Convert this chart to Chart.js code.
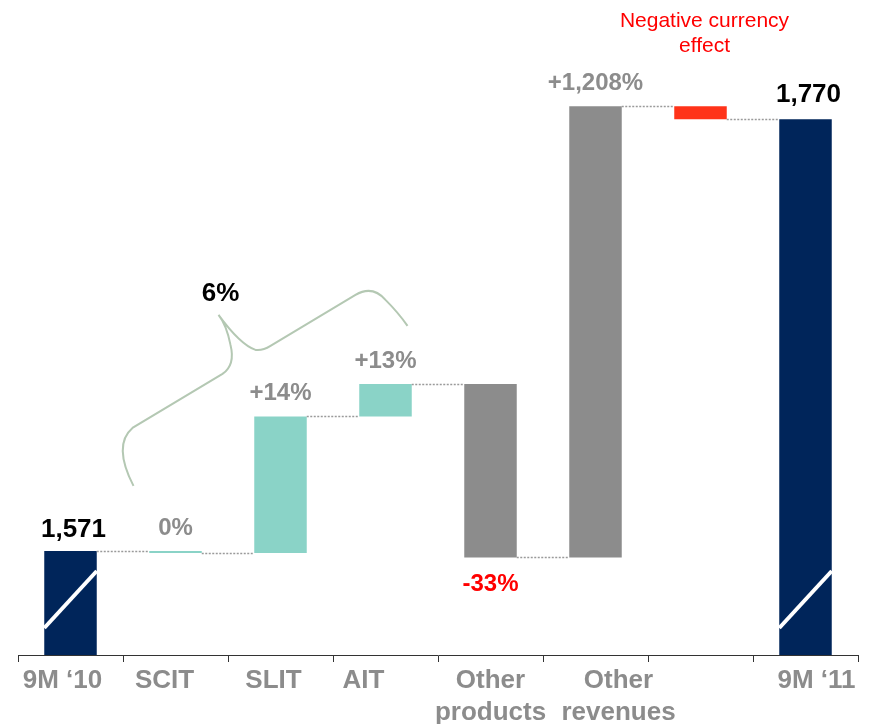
<!DOCTYPE html>
<html>
<head>
<meta charset="utf-8">
<script src="https://cdn.jsdelivr.net/npm/chart.js@4"></script>
<style>
  html, body { margin: 0; padding: 0; background: #fff; }
</style>
</head>
<body>
<canvas id="chart" width="872" height="724"></canvas>
<script>
// chart values
const categories = ["9M ‘10", "SCIT", "SLIT", "AIT", ["Other", "products"], ["Other", "revenues"], "", "9M ‘11"];
const startTotal = 1571;
const endTotal = 1770;
const changes = [-1, 63, 15, -80, 208, -6];
const changeLabels = ["0%", "+14%", "+13%", "-33%", "+1,208%", ""];
const totalLabels = ["1,571", "1,770"];
const groupLabel = "6%";
const currencyNote = ["Negative currency", "effect"];
// broken axis: bars for the totals start at the break
const axisBreakValue = 1523;
const axisTopValue = 1825;

const NAVY = "#00255a";
const TEAL = "#8ad3c7";
const GREY = "#8c8c8c";
const RED_BAR = "#ff3319";
const FONT = "'Liberation Sans', Arial, sans-serif";

// floating bars for the waterfall
const bars = [[axisBreakValue, startTotal]];
const levels = [startTotal];
let running = startTotal;
changes.forEach(function (c) {
  bars.push([running, running + c]);
  running += c;
  levels.push(running);
});
bars.push([axisBreakValue, endTotal]);

const barColors = [NAVY, TEAL, TEAL, TEAL, GREY, GREY, RED_BAR, NAVY];

// small x offsets of the category labels, as in the original slide
const labelShift = [-8, -11, -7, -22, 0, 23, 0, 11];

const waterfallExtras = {
  id: "waterfallExtras",
  afterDatasetsDraw(chart) {
    const ctx = chart.ctx;
    const x = chart.scales.x;
    const y = chart.scales.y;
    const els = chart.getDatasetMeta(0).data;
    const bottom = chart.chartArea.bottom;

    ctx.save();

    // dotted connectors
    ctx.strokeStyle = "#9a9a9a";
    ctx.lineWidth = 1.5;
    ctx.setLineDash([2, 1.5]);
    for (let i = 0; i < els.length - 1; i++) {
      const yy = Math.round(y.getPixelForValue(levels[i])) + 0.5;
      ctx.beginPath();
      ctx.moveTo(els[i].x + els[i].width / 2, yy);
      ctx.lineTo(els[i + 1].x - els[i + 1].width / 2, yy);
      ctx.stroke();
    }
    ctx.setLineDash([]);

    // axis break slashes on the total bars
    ctx.strokeStyle = "#ffffff";
    ctx.lineWidth = 4;
    [0, els.length - 1].forEach(function (i) {
      const el = els[i];
      ctx.beginPath();
      ctx.moveTo(el.x - el.width / 2, bottom - 27);
      ctx.lineTo(el.x + el.width / 2, bottom - 84);
      ctx.stroke();
    });

    // value labels
    ctx.textAlign = "center";
    ctx.textBaseline = "alphabetic";
    ctx.font = "bold 26px " + FONT;
    ctx.fillStyle = "#000";
    ctx.fillText(totalLabels[0], els[0].x + 3, y.getPixelForValue(startTotal) - 14);
    ctx.fillText(totalLabels[1], els[7].x + 3, y.getPixelForValue(endTotal) - 17);

    ctx.font = "bold 24px " + FONT;
    changes.forEach(function (c, k) {
      const el = els[k + 1];
      const lab = changeLabels[k];
      if (!lab) return;
      const top = Math.max(bars[k + 1][0], bars[k + 1][1]);
      const low = Math.min(bars[k + 1][0], bars[k + 1][1]);
      if (lab.charAt(0) !== "-") {
        ctx.fillStyle = GREY;
        ctx.fillText(lab, el.x, y.getPixelForValue(top) - 16);
      } else {
        ctx.fillStyle = "#ff0000";
        ctx.fillText(lab, el.x, y.getPixelForValue(low) + 34);
      }
    });

    // currency note
    ctx.font = "21px " + FONT;
    ctx.fillStyle = "#ff0000";
    ctx.fillText(currencyNote[0], els[6].x + 4, 27);
    ctx.fillText(currencyNote[1], els[6].x + 4, 52);

    // brace over SCIT .. AIT
    const ox = x.getPixelForValue(0);
    const oy = y.getPixelForValue(startTotal);
    const P = function (dx, dy) { return [ox + dx, oy + dy]; };
    ctx.strokeStyle = "#b4c8b3";
    ctx.lineWidth = 2;
    ctx.beginPath();
    let p = P(63, -65); ctx.moveTo(p[0], p[1]);
    let c1 = P(42, -106), e = P(62, -123); ctx.quadraticCurveTo(c1[0], c1[1], e[0], e[1]);
    e = P(152, -177); ctx.lineTo(e[0], e[1]);
    c1 = P(165, -186); e = P(160, -206); ctx.quadraticCurveTo(c1[0], c1[1], e[0], e[1]);
    c1 = P(156, -226); e = P(148, -236); ctx.quadraticCurveTo(c1[0], c1[1], e[0], e[1]);
    c1 = P(170, -206); e = P(185, -201); ctx.quadraticCurveTo(c1[0], c1[1], e[0], e[1]);
    c1 = P(192, -200); e = P(200, -205); ctx.quadraticCurveTo(c1[0], c1[1], e[0], e[1]);
    e = P(285, -256); ctx.lineTo(e[0], e[1]);
    c1 = P(302, -266); e = P(315, -251); ctx.quadraticCurveTo(c1[0], c1[1], e[0], e[1]);
    c1 = P(328, -238); e = P(337, -225); ctx.quadraticCurveTo(c1[0], c1[1], e[0], e[1]);
    ctx.stroke();

    ctx.font = "bold 26px " + FONT;
    ctx.fillStyle = "#000";
    ctx.fillText(groupLabel, ox + 150, oy - 250);

    // category labels
    ctx.font = "bold 26px " + FONT;
    ctx.fillStyle = GREY;
    categories.forEach(function (lab, i) {
      const lines = Array.isArray(lab) ? lab : [lab];
      const cx = x.getPixelForValue(i) + labelShift[i];
      lines.forEach(function (line, j) {
        ctx.fillText(line, cx, bottom + 33 + j * 32);
      });
    });

    ctx.restore();
  },
};

new Chart(document.getElementById("chart"), {
  type: "bar",
  data: {
    labels: categories,
    datasets: [
      {
        data: bars,
        backgroundColor: barColors,
        borderWidth: 0,
        borderSkipped: false,
        barPercentage: 0.5,
        categoryPercentage: 1,
      },
    ],
  },
  options: {
    responsive: false,
    animation: false,
    layout: { padding: { top: 0, left: 18, right: 14, bottom: 0 } },
    plugins: {
      legend: { display: false },
      tooltip: { enabled: false },
    },
    scales: {
      x: {
        offset: true,
        grid: {
          offset: true,
          drawOnChartArea: false,
          color: "#333",
          tickLength: 7,
        },
        border: { color: "#333", width: 1 },
        ticks: { display: false },
        afterFit: function (scale) { scale.height = 69; },
      },
      y: {
        display: false,
        min: axisBreakValue,
        max: axisTopValue,
      },
    },
  },
  plugins: [waterfallExtras],
});
</script>
</body>
</html>
